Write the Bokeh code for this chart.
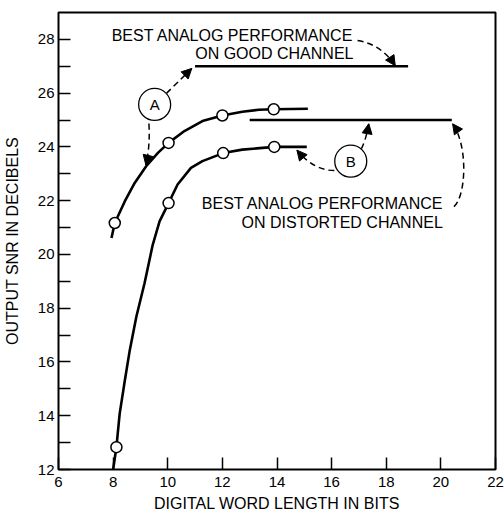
from bokeh.plotting import figure
from bokeh.models import FixedTicker, Arrow, NormalHead, Range1d
from bokeh.core.properties import value
from bokeh.embed import file_html
from bokeh.resources import INLINE

FONT = "Liberation Sans"

# Axis ticks
x_ticks = [6, 8, 10, 12, 14, 16, 18, 20, 22]
y_ticks = [12, 14, 16, 18, 20, 22, 24, 26, 28]
y_minor = [13, 15, 17, 19, 21, 23, 25, 27]

# Good channel: measured points and the fitted curve
good_mark_bits = [8.06, 10.03, 12.0, 13.88]
good_mark_snr = [21.17, 24.15, 25.17, 25.40]
good_curve_bits = [7.94, 8.06, 8.43, 8.79, 9.21, 9.64, 10.03, 10.61, 11.27, 12.0, 12.73, 13.33, 13.88, 15.13]
good_curve_snr = [20.61, 21.17, 21.98, 22.66, 23.28, 23.78, 24.15, 24.59, 24.96, 25.17, 25.31, 25.38, 25.40, 25.42]

# Distorted channel: measured points and the fitted curve
dist_mark_bits = [8.12, 10.03, 12.03, 13.9]
dist_mark_snr = [12.83, 21.91, 23.77, 24.0]
dist_curve_bits = [8.0, 8.12, 8.24, 8.43, 8.61, 8.85, 9.15, 9.45, 9.70, 10.03, 10.36, 10.85, 11.27, 12.03, 12.73, 13.9, 15.09]
dist_curve_snr = [12.0, 12.83, 14.08, 15.32, 16.44, 17.68, 18.93, 20.36, 21.23, 21.91, 22.60, 23.22, 23.47, 23.77, 23.90, 24.0, 24.0]

# Best analog performance levels (dB) and the span they are drawn over
analog_good_snr = 27.0
analog_good_bits = [11.0, 18.8]
analog_dist_snr = 25.0
analog_dist_bits = [13.0, 20.4]

p = figure(width=504, height=514, output_backend="svg", toolbar_location=None,
           x_range=Range1d(6, 22), y_range=Range1d(12, 29),
           min_border_left=55, min_border_right=9, min_border_top=12, min_border_bottom=45)
p.background_fill_color = "white"
p.border_fill_color = "white"
p.outline_line_color = "black"
p.outline_line_width = 2
p.xgrid.visible = False
p.ygrid.visible = False

p.xaxis.ticker = FixedTicker(ticks=x_ticks)
p.yaxis.ticker = FixedTicker(ticks=y_ticks, minor_ticks=y_minor)
for ax in (p.xaxis, p.yaxis):
    ax.axis_line_color = None
    ax.major_tick_in = 12
    ax.major_tick_out = 0
    ax.major_tick_line_color = "black"
    ax.major_tick_line_width = 1.5
    ax.major_label_text_font = FONT
    ax.major_label_text_font_size = "15px"
    ax.major_label_text_color = "black"
    ax.axis_label_text_font = FONT
    ax.axis_label_text_font_size = "16px"
    ax.axis_label_text_font_style = "normal"
    ax.axis_label_text_color = "black"
p.xaxis.minor_tick_line_color = None
p.yaxis.minor_tick_in = 12
p.yaxis.minor_tick_out = 0
p.yaxis.minor_tick_line_color = "black"
p.yaxis.minor_tick_line_width = 1.5
p.xaxis.major_label_standoff = 7
p.yaxis.major_label_standoff = 4
p.xaxis.axis_label = "DIGITAL WORD LENGTH IN BITS"
p.yaxis.axis_label = "OUTPUT SNR IN DECIBELS"
p.xaxis.axis_label_standoff = 5
p.yaxis.axis_label_standoff = 14

# Performance curves
p.line(good_curve_bits, good_curve_snr, line_color="black", line_width=2.6)
p.line(dist_curve_bits, dist_curve_snr, line_color="black", line_width=2.6)
p.scatter(good_mark_bits, good_mark_snr, size=11, fill_color="white", line_color="black", line_width=1.5)
p.scatter(dist_mark_bits, dist_mark_snr, size=11, fill_color="white", line_color="black", line_width=1.5)

# Analog reference levels
p.line(analog_good_bits, [analog_good_snr] * 2, line_color="black", line_width=2.6)
p.line(analog_dist_bits, [analog_dist_snr] * 2, line_color="black", line_width=2.6)

# Dashed leader curves (quadratic): start, control, tip
DASH = "6 4"
quad_leaders = [
    ((9.96, 26.0), (10.36, 26.4), (10.88, 26.92)),   # A -> good level
    ((9.31, 24.87), (9.36, 24.05), (9.20, 23.32)),   # A -> good curve
    ((16.95, 27.96), (17.82, 27.81), (18.33, 27.02)),  # good label -> level
    ((17.09, 23.93), (17.27, 24.31), (17.36, 24.86)),  # B -> distorted level
    ((16.10, 23.12), (15.35, 23.12), (14.73, 23.88)),  # B -> distorted curve
]
for (x0, y0), (cx, cy), (x1, y1) in quad_leaders:
    p.quadratic(x0=[x0], y0=[y0], x1=[x1], y1=[y1], cx=[cx], cy=[cy],
                line_color="black", line_width=1.5, line_dash=DASH)
    p.add_layout(Arrow(end=NormalHead(size=10, fill_color="black", line_color="black", line_width=1),
                       x_start=cx, y_start=cy, x_end=x1, y_end=y1, line_alpha=0))

# Leader from the distorted-channel label to the end of its level
b_start, b_c0, b_c1, b_tip = (20.48, 21.78), (20.93, 22.19), (21.0, 24.05), (20.43, 24.86)
p.bezier(x0=[b_start[0]], y0=[b_start[1]], x1=[b_tip[0]], y1=[b_tip[1]],
         cx0=[b_c0[0]], cy0=[b_c0[1]], cx1=[b_c1[0]], cy1=[b_c1[1]],
         line_color="black", line_width=1.5, line_dash=DASH)
p.add_layout(Arrow(end=NormalHead(size=10, fill_color="black", line_color="black", line_width=1),
                   x_start=b_c1[0], y_start=b_c1[1], x_end=b_tip[0], y_end=b_tip[1], line_alpha=0))

# Circled labels
p.scatter([9.52, 16.70], [25.58, 23.47], size=32, fill_color="white", line_color="black", line_width=1.3)
p.text([9.52, 16.70], [25.58, 23.47], text=["A", "B"], text_align="center", text_baseline="middle",
       text_font=value(FONT), text_font_size="15px", text_color="black")

# Annotation text
p.text([16.8, 16.8], [28.15, 27.47],
       text=["BEST ANALOG PERFORMANCE", "ON GOOD CHANNEL"],
       text_align="right", text_baseline="alphabetic",
       text_font=value(FONT), text_font_size="16px", text_color="black")
p.text([20.1, 20.07], [21.88, 21.2],
       text=["BEST ANALOG PERFORMANCE", "ON DISTORTED CHANNEL"],
       text_align="right", text_baseline="alphabetic",
       text_font=value(FONT), text_font_size="16px", text_color="black")

open("out.html", "w").write(file_html(p, INLINE))
